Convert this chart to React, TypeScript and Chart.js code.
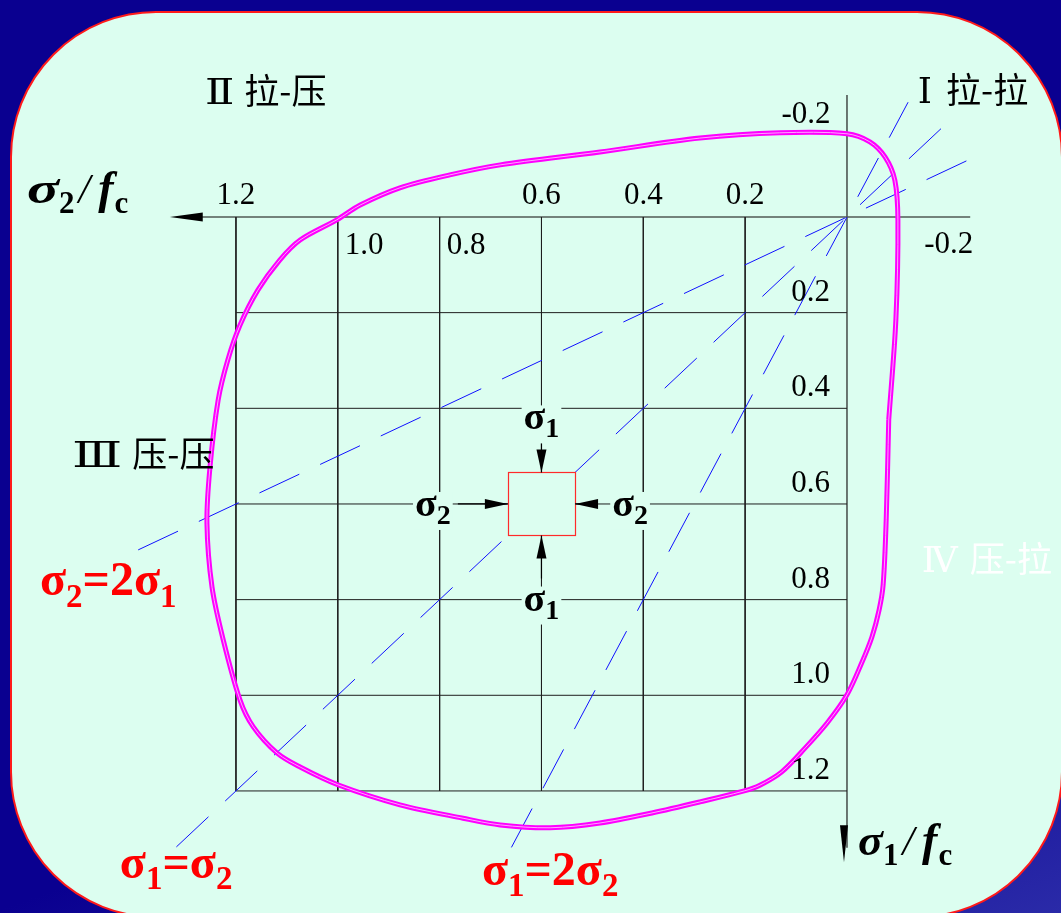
import React, { useEffect, useRef } from "react";
import { Chart, registerables } from "chart.js";

Chart.register(...registerables);

// Biaxial strength envelope of concrete, stresses normalised by fc
// (compression plotted positive: σ2 to the left, σ1 downward).

// Grid ticks on both normalised stress axes
const sigma2Ticks = [0.2, 0.4, 0.6, 0.8, 1.0, 1.2];
const sigma1Ticks = [0.2, 0.4, 0.6, 0.8, 1.0, 1.2];
const sigma2LabelsAbove = [1.2, 0.6, 0.4, 0.2];
const sigma2LabelsBelow = [1.0, 0.8];
const tensionTick = -0.2;

// Axis extents (tension end, compression end / arrow tip)
const sigma2AxisRange = [-0.242, 1.33];
const sigma1AxisRange = [-0.255, 1.349];

// Failure envelope, traced as a closed loop
const envelopeSigma2 = [
  -0.082, -0.077, -0.071, -0.063, -0.049, -0.029, 0.0, 0.039, 0.082, 0.128,
  0.171, 0.202, 0.289, 0.383, 0.485, 0.583, 0.681, 0.754, 0.878, 1.0,
  1.074, 1.119, 1.166, 1.192, 1.225, 1.247, 1.257, 1.251, 1.235, 1.216,
  1.192, 1.157, 1.114, 1.074, 1.002, 0.956, 0.878, 0.78, 0.681, 0.485,
  0.289, 0.132, 0.0, -0.045, -0.075, -0.094, -0.1, -0.096, -0.082,
];
const envelopeSigma1 = [
  0.424, 0.633, 0.769, 0.822, 0.878, 0.932, 0.999, 1.058, 1.11, 1.16,
  1.188, 1.2, 1.223, 1.246, 1.267, 1.277, 1.271, 1.257, 1.229, 1.187,
  1.15, 1.121, 1.066, 1.01, 0.884, 0.774, 0.64, 0.523, 0.383, 0.299,
  0.226, 0.153, 0.09, 0.048, 0.006, -0.025, -0.061, -0.088, -0.109, -0.136,
  -0.165, -0.176, -0.174, -0.157, -0.125, -0.077, 0.006, 0.215, 0.424,
];

// Proportional loading paths σ1 = k·σ2, drawn from the compression end to the tension end
const pathSlopes = [1, 2, 0.5];
const pathSigma2From = [1.317, 0.659, 1.392];
const pathSigma2To = [-0.196, -0.12, -0.242];

// Specimen element in the compression–compression field
const specimenCenter = 0.6;
const specimenHalf = 0.066;

// View window of both scales
const X_MIN = -0.4203;
const X_MAX = 1.6634;
const Y_MIN = -0.4537;
const Y_MAX = 1.4552;

const PANEL_BG = "#dcfef0";
const SERIF = '"Liberation Serif", "Times New Roman", serif';
const ROMAN = '"DejaVu Serif", "Liberation Serif", serif';
const CJK = '"Noto Sans CJK SC", sans-serif';

type Run = { t: string; font: string; dy?: number; gap?: number; sx?: number };

function runWidth(ctx: CanvasRenderingContext2D, r: Run) {
  ctx.font = r.font;
  return (r.gap || 0) + ctx.measureText(r.t).width * (r.sx || 1);
}

function drawRuns(
  ctx: CanvasRenderingContext2D,
  runs: Run[],
  x: number,
  y: number,
  align: "left" | "center" | "right",
  color: string,
  bg?: { top: number; bottom: number }
) {
  const total = runs.reduce((s, r) => s + runWidth(ctx, r), 0);
  let cx = align === "left" ? x : align === "center" ? x - total / 2 : x - total;
  if (bg) {
    ctx.fillStyle = PANEL_BG;
    ctx.fillRect(cx - 2, y - bg.top, total + 4, bg.top + bg.bottom);
  }
  ctx.fillStyle = color;
  ctx.textAlign = "left";
  ctx.textBaseline = "alphabetic";
  for (const r of runs) {
    ctx.font = r.font;
    cx += r.gap || 0;
    const w = ctx.measureText(r.t).width * (r.sx || 1);
    ctx.save();
    ctx.translate(cx, y + (r.dy || 0));
    ctx.scale(r.sx || 1, 1);
    ctx.fillText(r.t, 0, 0);
    ctx.restore();
    cx += w;
  }
}

function fmt(v: number) {
  return v.toFixed(1);
}

const overlayPlugin = {
  id: "overlay",
  afterDatasetsDraw(chart: any) {
    const ctx: CanvasRenderingContext2D = chart.ctx;
    const sx = chart.scales.x;
    const sy = chart.scales.y;
    const px = (v: number) => sx.getPixelForValue(v);
    const py = (v: number) => sy.getPixelForValue(v);
    ctx.save();

    const head = (tx: number, ty: number, dx: number, dy: number, len: number, half: number) => {
      const bx = tx - dx * len;
      const by = ty - dy * len;
      ctx.beginPath();
      ctx.moveTo(tx, ty);
      ctx.lineTo(bx - dy * half, by + dx * half);
      ctx.lineTo(bx + dy * half, by - dx * half);
      ctx.closePath();
      ctx.fillStyle = "#000";
      ctx.fill();
    };

    // axis arrow heads (pointing toward increasing compression)
    head(px(sigma2AxisRange[1]), py(0), -1, 0, 33, 4.5);
    head(px(0) - 3, py(sigma1AxisRange[1]), 0, 1, 37, 4);

    // specimen element
    const sL = px(specimenCenter + specimenHalf);
    const sR = px(specimenCenter - specimenHalf);
    const sT = py(specimenCenter - specimenHalf);
    const sB = py(specimenCenter + specimenHalf);
    const cX = px(specimenCenter);
    const cY = py(specimenCenter);
    ctx.fillStyle = PANEL_BG;
    ctx.fillRect(sL, sT, sR - sL, sB - sT);
    ctx.strokeStyle = "#ff2a2a";
    ctx.lineWidth = 1.2;
    ctx.strokeRect(Math.round(sL) + 0.5, Math.round(sT) + 0.5, Math.round(sR - sL), Math.round(sB - sT));

    // load arrows on the specimen
    ctx.strokeStyle = "#000";
    ctx.lineWidth = 1.2;
    ctx.beginPath();
    ctx.moveTo(cX, sT - 34);
    ctx.lineTo(cX, sT);
    ctx.moveTo(cX, sB);
    ctx.lineTo(cX, sB + 43);
    ctx.moveTo(sL - 50, cY);
    ctx.lineTo(sL, cY);
    ctx.moveTo(sR, cY);
    ctx.lineTo(sR + 22, cY);
    ctx.stroke();
    head(cX, sT, 0, 1, 23, 5);
    head(cX, sB, 0, -1, 23, 5);
    head(sL, cY, 1, 0, 23, 5);
    head(sR, cY, -1, 0, 23, 5);

    // tick labels
    const numFont = `31px ${SERIF}`;
    const num = (s: string, x: number, y: number, align: "left" | "center" | "right") =>
      drawRuns(ctx, [{ t: s, font: numFont }], x, y, align, "#000");
    for (const v of sigma2LabelsAbove) num(fmt(v), px(v), py(0) - 13, "center");
    for (const v of sigma2LabelsBelow) num(fmt(v), px(v) + 7, py(0) + 37, "left");
    for (const v of sigma1Ticks) num(fmt(v), px(0) - 17, py(v) - 12, "right");
    num(fmt(tensionTick), px(tensionTick), py(0) + 36, "center");
    num(fmt(tensionTick), px(0) - 41, py(tensionTick) + 2, "center");

    // axis titles
    const titleRuns = (sub: string, sigmaStretch: number): Run[] => [
      { t: "σ", font: `italic bold 44px ${SERIF}`, sx: sigmaStretch },
      { t: sub, font: `bold 31px ${SERIF}`, dy: 10 },
      { t: "/", font: `italic 42px ${SERIF}`, gap: 4 },
      { t: "f", font: `italic bold 46px ${SERIF}`, gap: 8 },
      { t: "c", font: `bold 31px ${SERIF}`, dy: 10, gap: 1 },
    ];
    drawRuns(ctx, titleRuns("2", 1.35), px(0) - 820, py(0) - 14, "left", "#000");
    drawRuns(ctx, titleRuns("1", 1.05), px(0) + 11, py(sigma1AxisRange[1]) - 7, "left", "#000");

    // stress labels around the specimen
    const lbl = (sub: string): Run[] => [
      { t: "σ", font: `bold 38px ${SERIF}`, sx: 1.05 },
      { t: sub, font: `bold 28px ${SERIF}`, dy: 8 },
    ];
    const box = { top: 24, bottom: 14 };
    drawRuns(ctx, lbl("1"), cX, sT - 43, "center", "#000", box);
    drawRuns(ctx, lbl("1"), cX, sB + 75, "center", "#000", box);
    drawRuns(ctx, lbl("2"), sL - 75, cY + 12, "center", "#000", box);
    drawRuns(ctx, lbl("2"), sR + 55, cY + 12, "center", "#000", box);

    // loading path labels
    const red = "#ff0000";
    const big = `bold 48px ${SERIF}`;
    const small = `bold 33px ${SERIF}`;
    drawRuns(
      ctx,
      [
        { t: "σ", font: big },
        { t: "2", font: small, dy: 12 },
        { t: "=2σ", font: big },
        { t: "1", font: small, dy: 12 },
      ],
      px(1.585),
      py(0.79),
      "left",
      red
    );
    drawRuns(
      ctx,
      [
        { t: "σ", font: big },
        { t: "1", font: small, dy: 11 },
        { t: "=σ", font: big },
        { t: "2", font: small, dy: 11 },
      ],
      px(1.428),
      py(1.382),
      "left",
      red
    );
    drawRuns(
      ctx,
      [
        { t: "σ", font: big },
        { t: "1", font: small, dy: 11 },
        { t: "=2σ", font: big },
        { t: "2", font: small, dy: 11 },
      ],
      px(0.717),
      py(1.397),
      "left",
      red
    );

    // quadrant names
    const quad = (numeral: string, name: string, gap: number, stretch: number, s2: number, s1: number, color: string) =>
      drawRuns(
        ctx,
        [
          { t: numeral, font: `36px ${ROMAN}`, sx: stretch },
          { t: name, font: `35px ${CJK}`, gap },
        ],
        px(s2),
        py(s1),
        "left",
        color
      );
    quad("Ⅱ", "拉-压", 10, 1.2, 1.261, -0.236, "#000");
    quad("Ⅰ", "拉-拉", 14, 1.0, -0.139, -0.238, "#000");
    quad("Ⅲ", "压-压", 10, 1.45, 1.522, 0.523, "#000");
    quad("Ⅳ", "压-拉", 12, 1.0, -0.147, 0.742, "#ffffff");

    ctx.restore();
  },
};

function segment(a: { x: number; y: number }, b: { x: number; y: number }, color: string, width: number, order: number) {
  return {
    data: [a, b],
    showLine: true,
    borderColor: color,
    borderWidth: width,
    pointRadius: 0,
    fill: false,
    order,
  };
}

export default function App() {
  const canvasRef = useRef<HTMLCanvasElement>(null);

  useEffect(() => {
    const gridColor = "#1e1e1e";
    const datasets: any[] = [];
    for (const t of sigma2Ticks) datasets.push(segment({ x: t, y: 0 }, { x: t, y: 1.2 }, gridColor, 1, 6));
    for (const t of sigma1Ticks) datasets.push(segment({ x: 0, y: t }, { x: 1.2, y: t }, gridColor, 1, 6));
    datasets.push(segment({ x: sigma2AxisRange[0], y: 0 }, { x: sigma2AxisRange[1] - 0.03, y: 0 }, "#505a55", 1.6, 6));
    datasets.push(segment({ x: 0, y: sigma1AxisRange[0] }, { x: 0, y: sigma1AxisRange[1] - 0.03 }, gridColor, 1.2, 6));

    pathSlopes.forEach((k, i) => {
      datasets.push({
        data: [
          { x: pathSigma2From[i], y: k * pathSigma2From[i] },
          { x: pathSigma2To[i], y: k * pathSigma2To[i] },
        ],
        showLine: true,
        borderColor: "#1010ff",
        borderWidth: 1,
        borderDash: [44, 23],
        pointRadius: 0,
        fill: false,
        order: 5,
      });
    });

    const envelope = envelopeSigma2.map((x, i) => ({ x, y: envelopeSigma1[i] }));
    datasets.push({
      data: envelope,
      showLine: true,
      borderColor: "#ff00ff",
      borderWidth: 5,
      tension: 0.32,
      pointRadius: 0,
      fill: false,
      order: 3,
    });
    datasets.push({
      data: envelope,
      showLine: true,
      borderColor: "#ffa6ff",
      borderWidth: 1,
      tension: 0.32,
      pointRadius: 0,
      fill: false,
      order: 2,
    });

    const chart = new Chart(canvasRef.current!, {
      type: "scatter",
      data: { datasets },
      options: {
        animation: false,
        responsive: false,
        devicePixelRatio: 1,
        events: [],
        layout: { padding: 0 },
        plugins: { legend: { display: false }, tooltip: { enabled: false } },
        scales: {
          x: { type: "linear", display: false, min: X_MIN, max: X_MAX, reverse: true },
          y: { type: "linear", display: false, min: Y_MIN, max: Y_MAX, reverse: true },
        },
      },
      plugins: [overlayPlugin],
    } as any);
    return () => chart.destroy();
  }, []);

  return (
    <div
      style={{
        position: "absolute",
        left: 0,
        top: 0,
        width: 1061,
        height: 913,
        overflow: "hidden",
        background: "linear-gradient(160deg, #0a0090 0%, #0a0090 70%, #2a2aa8 100%)",
      }}
    >
      <div
        style={{
          position: "absolute",
          left: 10,
          top: 11,
          width: 1053,
          height: 907,
          boxSizing: "border-box",
          border: "2px solid #ff1a1a",
          borderRadius: 146,
          background: PANEL_BG,
        }}
      />
      <canvas ref={canvasRef} width={1061} height={913} style={{ position: "absolute", left: 0, top: 0 }} />
    </div>
  );
}
